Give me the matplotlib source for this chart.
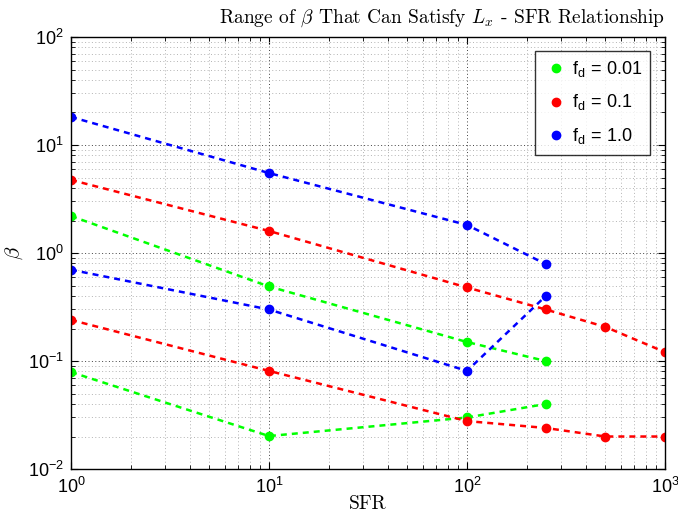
import matplotlib
matplotlib.use("Agg")
import matplotlib.pyplot as plt

plt.rcParams['mathtext.fontset'] = 'cm'
plt.rcParams['font.family'] = ['Liberation Sans', 'DejaVu Sans']
plt.rcParams['axes.formatter.use_mathtext'] = True

# SFR values and beta ranges
sfr_short = [1, 10, 100, 250]
sfr_long = [1, 10, 100, 250, 500, 1000]

green_hi = [2.2, 0.49, 0.15, 0.1]
green_lo = [0.079, 0.0202, 0.030, 0.040]
red_hi = [4.75, 1.6, 0.48, 0.3, 0.207, 0.121]
red_lo = [0.24, 0.081, 0.0278, 0.024, 0.020, 0.020]
blue_hi = [18.2, 5.5, 1.82, 0.79]
blue_lo = [0.70, 0.30, 0.081, 0.40]

labels = [r'f$_\mathregular{d}$ = 0.01', r'f$_\mathregular{d}$ = 0.1', r'f$_\mathregular{d}$ = 1.0']

fig = plt.figure(figsize=(6.78, 5.14), dpi=100)
ax = fig.add_axes([0.1047, 0.0875, 0.876, 0.8405])

style = dict(linestyle=(0, (2.4, 2.0)), linewidth=1.8, marker='o', markersize=6)
ax.plot(sfr_short, green_hi, color=(0, 1, 0), **style)
ax.plot(sfr_short, green_lo, color=(0, 1, 0), **style)
ax.plot(sfr_long, red_hi, color=(1, 0, 0), **style)
ax.plot(sfr_long, red_lo, color=(1, 0, 0), **style)
ax.plot(sfr_short, blue_hi, color=(0, 0, 1), **style)
ax.plot(sfr_short, blue_lo, color=(0, 0, 1), **style)

# legend entries: markers only
h1, = ax.plot([], [], 'o', color=(0, 1, 0), markersize=6)
h2, = ax.plot([], [], 'o', color=(1, 0, 0), markersize=6)
h3, = ax.plot([], [], 'o', color=(0, 0, 1), markersize=6)
leg = ax.legend([h1, h2, h3], labels, loc='upper right', fontsize=13,
                frameon=True, fancybox=False, edgecolor='black',
                borderaxespad=0.8, handletextpad=0.1, handlelength=1.5,
                labelspacing=0.75, borderpad=0.45)
leg.get_frame().set_linewidth(1.0)

ax.set_xscale('log')
ax.set_yscale('log')
ax.set_xlim(1, 1000)
ax.set_ylim(0.01, 100)

ax.grid(True, which='major', linestyle=(0, (1, 2.5)), color='0.25', linewidth=0.7)
ax.grid(True, which='minor', linestyle=(0, (1, 2.5)), color='0.7', linewidth=0.7)
ax.tick_params(which='both', direction='in', top=True, right=True, labelsize=13)
ax.tick_params(which='major', length=5)
ax.tick_params(which='minor', length=3)
ax.tick_params(axis='x', pad=6)
ax.tick_params(axis='y', pad=5)
for s in ax.spines.values():
    s.set_linewidth(1.0)

ax.set_xlabel('SFR', family='cmr10', fontsize=14, labelpad=-2)
ax.set_ylabel(r'$\beta$', fontsize=15, labelpad=2)
ax.set_title(r'Range of $\beta$ That Can Satisfy $L_x$ - SFR Relationship',
             family='cmr10', fontsize=14, loc='right', pad=10)

fig.savefig('out.png', dpi=100)
